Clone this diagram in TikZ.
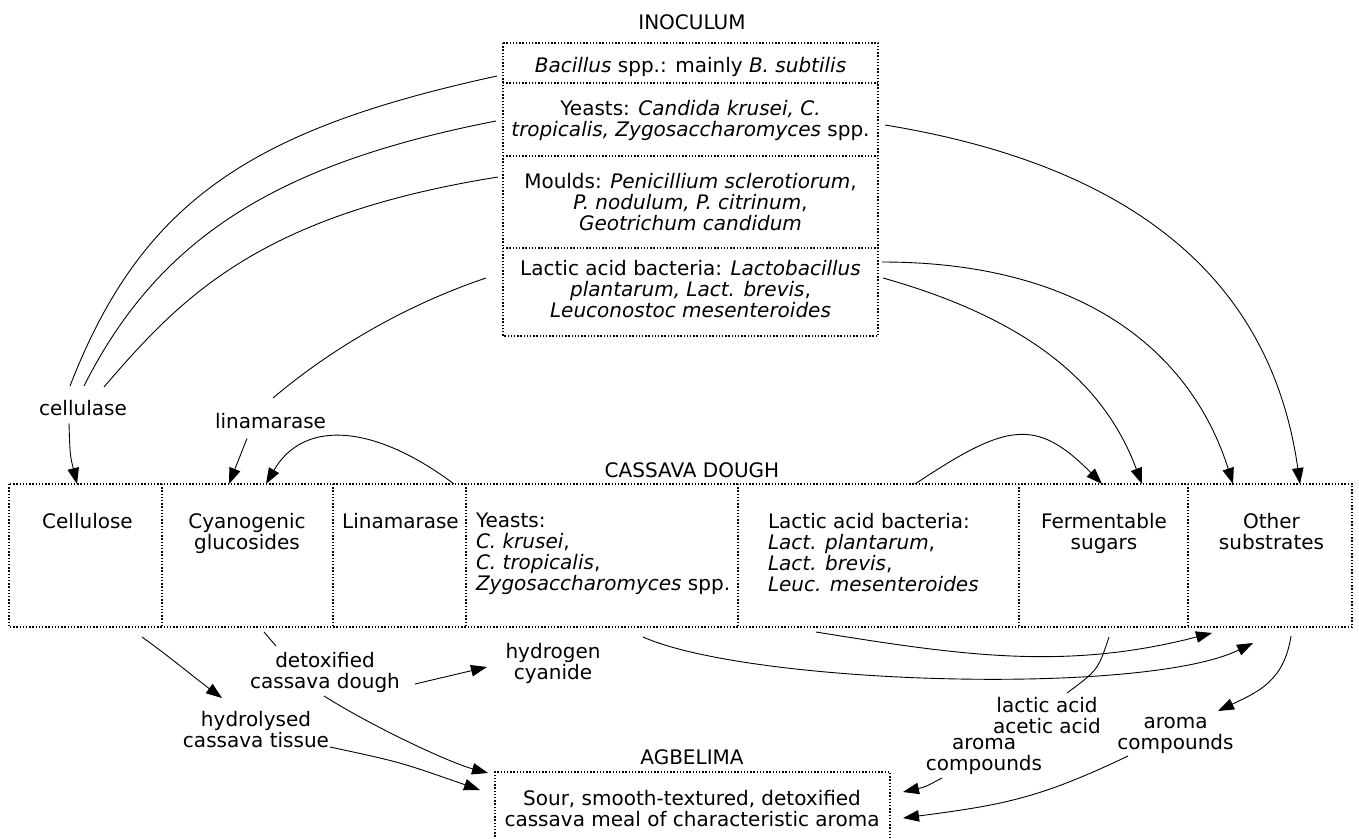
\documentclass[tikz,border=0pt]{standalone}
\usepackage{fontspec}
\setmainfont{DejaVu Sans}
\usetikzlibrary{calc,arrows.meta}
\tikzset{
  cell/.style={draw=none, inner sep=0pt, outer sep=0pt},
  dotline/.style={line width=1.3pt, dash pattern=on 1.4pt off 1.8pt},
  txt/.style={inner sep=0pt, outer sep=0pt, align=center, anchor=north},
  conn/.style={line width=0.9pt},
  arr/.style={line width=0.9pt, -{Triangle[length=16pt,width=11.5pt]}}
}
\begin{document}
\begin{tikzpicture}[x=1pt, y=-1pt, font=\fontsize{20}{21}\selectfont]
\useasboundingbox (0,0) rectangle (1359,838);

% ---------------- INOCULUM ----------------
\node[txt] (inoc) at (692,15) {INOCULUM};
\node[cell, minimum width=375pt, minimum height=40pt] (bac) at (690.5,63) {};
\node[cell, minimum width=375pt, minimum height=73pt] (yea) at (690.5,119.5) {};
\node[cell, minimum width=375pt, minimum height=92pt] (mou) at (690.5,202) {};
\node[cell, minimum width=375pt, minimum height=88pt] (lab) at (690.5,292) {};
\draw[dotline] (bac.north west) rectangle (lab.south east);
\draw[dotline] (bac.south west) -- (bac.south east);
\draw[dotline] (yea.south west) -- (yea.south east);
\draw[dotline] (mou.south west) -- (mou.south east);
\node[txt] (tbac) at (690.5,57) {\textit{Bacillus} spp.: mainly \textit{B. subtilis}};
\node[txt] (tyea) at (690.5,100) {Yeasts: \textit{Candida krusei, C.}\\\textit{tropicalis, Zygosaccharomyces} spp.};
\node[txt] (tmou) at (690.5,173) {Moulds: \textit{Penicillium sclerotiorum},\\\textit{P. nodulum, P. citrinum},\\\textit{Geotrichum candidum}};
\node[txt] (tlab) at (690.5,260) {Lactic acid bacteria: \textit{Lactobacillus}\\\textit{plantarum, Lact. brevis},\\\textit{Leuconostoc mesenteroides}};

% ---------------- CASSAVA DOUGH ----------------
\node[txt] (cdough) at (692,463) {CASSAVA DOUGH};
\node[cell, minimum width=153pt, minimum height=143pt] (c1) at (85.5,555.5) {};
\node[cell, minimum width=171pt, minimum height=143pt] (c2) at (247.5,555.5) {};
\node[cell, minimum width=133pt, minimum height=143pt] (c3) at (399.5,555.5) {};
\node[cell, minimum width=272pt, minimum height=143pt] (c4) at (602,555.5) {};
\node[cell, minimum width=281pt, minimum height=143pt] (c5) at (878.5,555.5) {};
\node[cell, minimum width=169pt, minimum height=143pt] (c6) at (1103.5,555.5) {};
\node[cell, minimum width=164pt, minimum height=143pt] (c7) at (1270,555.5) {};
\draw[dotline] (c1.north west) rectangle (c7.south east);
\foreach \c in {c1,c2,c3,c4,c5,c6}{
  \draw[dotline] (\c.north east) -- (\c.south east);
}
\node[txt] (tc1) at (87.5,513) {Cellulose};
\node[txt] (tc2) at (247,513) {Cyanogenic\\glucosides};
\node[txt] (tc3) at (400.5,513) {Linamarase};
\node[txt, anchor=north west, align=left] (tc4) at (476,513) {Yeasts:\\\textit{C. krusei},\\\textit{C. tropicalis},\\\textit{Zygosaccharomyces} spp.};
\node[txt, anchor=north west, align=left] (tc5) at (768,513) {Lactic acid bacteria:\\\textit{Lact. plantarum},\\\textit{Lact. brevis},\\\textit{Leuc. mesenteroides}};
\node[txt] (tc6) at (1104,513) {Fermentable\\sugars};
\node[txt] (tc7) at (1271.5,513) {Other\\substrates};

% ---------------- AGBELIMA ----------------
\node[txt] (agbt) at (692,750) {AGBELIMA};
\node[cell, minimum width=395pt, minimum height=68pt] (agb) at (692.5,806) {};
\draw[dotline] (agb.south west) -- (agb.north west) -- (agb.north east) -- (agb.south east);
\node[txt] (tagb) at (692,790) {Sour, smooth-textured, detoxified\\cassava meal of characteristic aroma};

% ---------------- labels ----------------
\node[txt] (cellulase) at (83,400) {cellulase};
\node[txt] (linam) at (270.5,413) {linamarase};
\node[txt] (detox) at (325,652) {detoxified\\cassava dough};
\node[txt] (hydro) at (256,711) {hydrolysed\\cassava tissue};
\node[txt] (hcn) at (553,643) {hydrogen\\cyanide};
\node[txt] (lactic) at (1047,697) {lactic acid\\acetic acid};
\node[txt] (aromaL) at (984,738) {aroma\\compounds};
\node[txt] (aromaR) at (1175.5,717) {aroma\\compounds};

% ---------------- connectors: inoculum -> left ----------------
\draw[conn] ($(bac.west)+(-6,13)$) .. controls (253,129) and (142,200) .. ($(cellulase.north)+(-13,-14)$);
\draw[conn] ($(yea.west)+(-7,1.5)$) .. controls (281,163) and (160,235) .. ($(cellulase.north)+(1,-14)$);
\draw[conn] ($(mou.west)+(-5,-25)$) .. controls (260,215) and (182,296) .. ($(cellulase.north)+(21,-13)$);
\draw[conn] ($(lab.west)+(-17,-14)$) .. controls (400,307) and (326,353) .. ($(linam.north)+(2.5,-15)$);
\draw[arr] ($(cellulase.south)+(-14,8)$) .. controls (70,455) .. ($(c1.north)+(-8.5,0)$);
\draw[arr] ($(linam.south)+(-23.5,10)$) -- ($(c2.north)+(-18.5,0)$);
\draw[arr] ($(c3.north)+(54.5,0)$) .. controls (374,424) and (303.5,419) .. ($(c2.north)+(18.5,0)$);

% ---------------- connectors: inoculum -> right ----------------
\draw[arr] ($(yea.east)+(7,5.5)$) .. controls (1142,167) and (1272,286) .. ($(c7.north)+(30,0)$);
\draw[arr] ($(lab.east)+(4,-30)$) .. controls (1082,262) and (1191,351) .. ($(c7.north)+(-37,0)$);
\draw[arr] ($(lab.east)+(5,-14)$) .. controls (1050,325) and (1110,399) .. ($(c6.north)+(38.5,0)$);
\draw[arr] ($(c5.north)+(36.5,0)$) .. controls (1006,423.5) and (1035.5,416.5) .. ($(c6.north)+(-1.5,0)$);

% ---------------- connectors: below ----------------
\draw[arr] ($(c1.south)+(56.5,10)$) .. controls (170,657) and (195,678) .. ($(hydro.north)+(-34,-13)$);
\draw[conn] ($(c2.south)+(16.5,5)$) -- ($(detox.north)+(-49,-6)$);
\draw[arr] ($(detox.north)+(90,32)$) -- ($(hcn.north)+(-66,24)$);
\draw[arr] ($(detox.north)+(-1,44)$) .. controls (375,728) and (449.6,762.6) .. ($(agb.north west)+(-7,1)$);
\draw[arr] ($(hydro.north)+(74,36)$) .. controls (400,762) .. ($(agb.north west)+(-15,18)$);
\draw[arr] ($(c4.south)+(41,10)$) .. controls (752,685) and (1145,696) .. ($(c7.south)+(-17,16)$);
\draw[arr] ($(c5.south)+(-62.5,5)$) .. controls (964.5,656) and (1066.5,670.5) .. ($(c7.south)+(-58,6)$);
\draw[conn] ($(c6.south)+(5.5,10)$) .. controls (1098,670) .. ($(lactic.north)+(20,-4)$);
\draw[arr] ($(c7.south)+(21,9)$) .. controls (1284,681) and (1258.5,691.6) .. ($(aromaR.north)+(42.5,-6)$);
\draw[arr] ($(aromaR.north)+(-47.5,39)$) .. controls (1038,799) and (1002,805) .. ($(agb.north east)+(13,46)$);
\draw[arr] ($(aromaL.north)+(-42,40)$) .. controls (925,787) .. ($(agb.north east)+(13,20)$);
\end{tikzpicture}
\end{document}
